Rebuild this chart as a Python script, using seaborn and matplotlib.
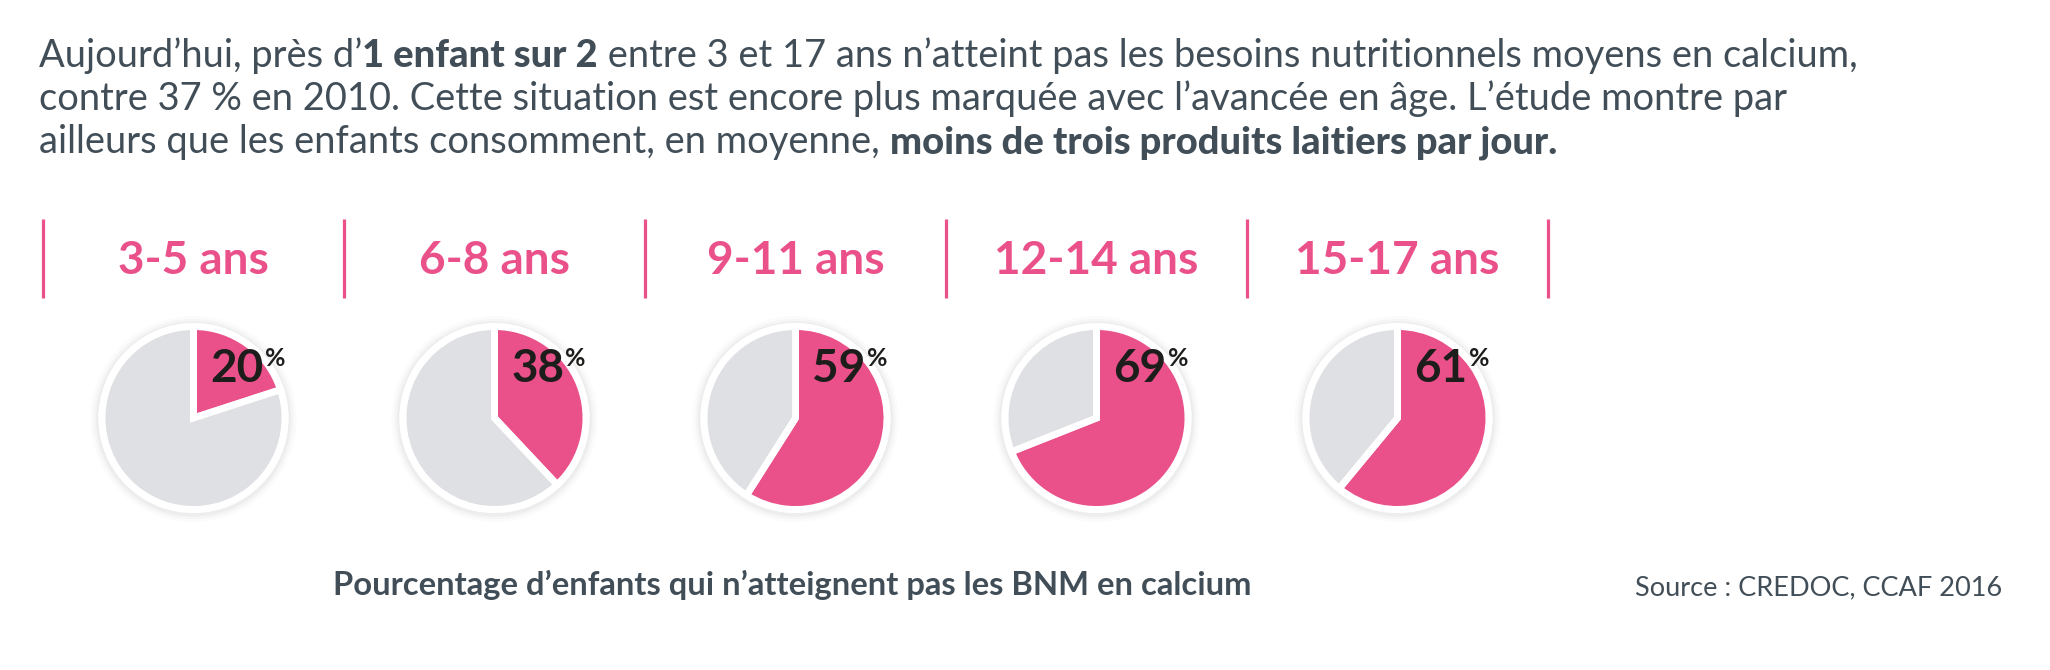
"""
Besoins nutritionnels en calcium des enfants - recréation du visuel CREDOC / CCAF 2016
"""
import matplotlib
matplotlib.use("Agg")
import matplotlib.pyplot as plt
from matplotlib.patches import Circle
import seaborn as sns

# Données du graphique
age_groups = ["3-5 ans", "6-8 ans", "9-11 ans", "12-14 ans", "15-17 ans"]
pct_not_met = [20, 38, 59, 69, 61]

# Texte d'introduction (segments normaux / gras)
intro_lines = [
    [("Aujourd’hui, près d’", False), ("1 enfant sur 2", True),
     (" entre 3 et 17 ans n’atteint pas les besoins nutritionnels moyens en calcium,", False)],
    [("contre 37 % en 2010. Cette situation est encore plus marquée avec l’avancée en âge. "
      "L’étude montre par", False)],
    [("ailleurs que les enfants consomment, en moyenne, ", False),
     ("moins de trois produits laitiers par jour.", True)],
]
caption = "Pourcentage d’enfants qui n’atteignent pas les BNM en calcium"
source = "Source : CREDOC, CCAF 2016"

# Couleurs
PINK = "#EA5089"
GREY = "#DFE0E4"
DARK = "#414E58"
BLACK = "#1D1D1B"

W, H = 2050, 670

sns.set_theme(style="white")
plt.rcParams["font.family"] = ["Lato", "DejaVu Sans"]

fig = plt.figure(figsize=(W / 100, H / 100), dpi=100)
fig.patch.set_facecolor("white")

# Axe de fond en coordonnées pixels (origine en haut à gauche)
bg = fig.add_axes([0, 0, 1, 1])
bg.set_xlim(0, W)
bg.set_ylim(H, 0)
bg.axis("off")
renderer = fig.canvas.get_renderer()


def text_width(s, size, weight="normal"):
    t = bg.text(0, 0, s, fontsize=size, fontweight=weight)
    w = t.get_window_extent(renderer=renderer).width
    t.remove()
    return w


def fit_size(s, target, weight="normal", base=20):
    return base * target / text_width(s, base, weight)


# --- Paragraphe d'introduction
body_size = fit_size(intro_lines[1][0][0], 1753)
baselines = [67, 110, 153]
for segments, y in zip(intro_lines, baselines):
    x = 39
    for txt, bold in segments:
        t = bg.text(x, y, txt, fontsize=body_size, color=DARK,
                    fontweight=900 if bold else "normal",
                    ha="left", va="baseline")
        x = t.get_window_extent(renderer=renderer).x1

# --- Séparateurs et titres de colonnes
sep_x0, col_w = 43, 301
bg.vlines([sep_x0 + col_w * i for i in range(len(age_groups) + 1)], 219, 298,
          color=PINK, lw=2.3)

header_size = fit_size(age_groups[0], 151, weight="bold")
centers = [sep_x0 + col_w * (i + 0.5) for i in range(len(age_groups))]
for cx, label in zip(centers, age_groups):
    bg.text(cx, 274, label, fontsize=header_size, fontweight="bold",
            color=PINK, ha="center", va="baseline")

# --- Camemberts
cy = 418
S = 220  # taille de l'axe en pixels, 1 unité = 100 px
for cx, val in zip(centers, pct_not_met):
    ax = fig.add_axes([(cx - S / 2) / W, (H - cy - S / 2) / H, S / W, S / H])
    # ombre légère
    for r, a in [(1.03, 0.03), (1.0, 0.05), (0.975, 0.07)]:
        ax.add_patch(Circle((0.0, -0.01), r, color="#888888", alpha=a, lw=0, zorder=0))
    ax.add_patch(Circle((0, 0), 0.95, color="white", lw=0, zorder=1))
    wedges, _ = ax.pie([val, 100 - val], colors=[PINK, GREY], startangle=90,
                       counterclock=False, radius=0.915,
                       wedgeprops=dict(edgecolor="white", linewidth=5))
    for w in wedges:
        w.set_zorder(2)
    ax.set_xlim(-1.1, 1.1)
    ax.set_ylim(-1.1, 1.1)
    ax.set_aspect("equal")
    ax.axis("off")

    # étiquette de pourcentage
    t = bg.text(cx + 17, 382, f"{val}", fontsize=33, fontweight="bold",
                color=BLACK, ha="left", va="baseline", zorder=5)
    x1 = t.get_window_extent(renderer=renderer).x1
    bg.text(x1 + 1, 366, "%", fontsize=18, fontweight="bold",
            color=BLACK, ha="left", va="baseline", zorder=5)

# la légende doit passer au-dessus des camemberts
bg.set_zorder(10)
bg.patch.set_alpha(0)

# --- Légende et source
cap_size = fit_size(caption, 919, weight="bold")
bg.text(333, 595, caption, fontsize=cap_size, fontweight="bold", color=DARK,
        ha="left", va="baseline")
src_size = fit_size(source, 367)
bg.text(2002, 595, source, fontsize=src_size, color=DARK, ha="right", va="baseline")

fig.savefig("out.png", dpi=100, facecolor="white")
plt.close(fig)
